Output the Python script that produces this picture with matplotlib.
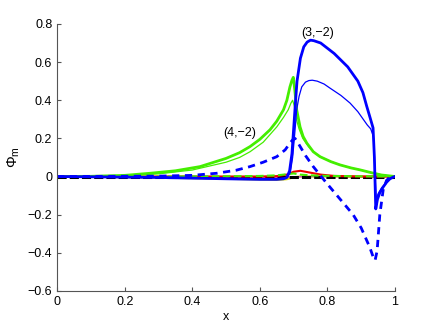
import matplotlib
matplotlib.use("Agg")
import matplotlib.pyplot as plt

plt.rcParams['font.family'] = ['Liberation Sans', 'DejaVu Sans']
plt.rcParams['mathtext.fontset'] = 'custom'
plt.rcParams['mathtext.rm'] = 'Liberation Sans'
plt.rcParams['mathtext.it'] = 'Liberation Sans'

# ── Data ──────────────────────────────────────────────────────────────────────

# (3,-2) mode, thick solid
x_blue_thick = [0.0, 0.3, 0.5, 0.6, 0.65, 0.67, 0.68, 0.688, 0.695, 0.70, 0.705, 0.71,
                0.72, 0.73, 0.74, 0.75, 0.76, 0.78, 0.82, 0.86, 0.89, 0.905, 0.916,
                0.926, 0.935, 0.939, 0.943, 0.948, 0.955, 0.965, 0.975, 0.985, 0.995, 1.0]
y_blue_thick = [0.0, -0.005, -0.012, -0.015, -0.015, -0.012, -0.005, 0.03, 0.12, 0.25,
                0.38, 0.5, 0.62, 0.68, 0.705, 0.715, 0.712, 0.70, 0.645, 0.575, 0.50,
                0.44, 0.37, 0.31, 0.255, 0.1, -0.17, -0.12, -0.085, -0.055, -0.03,
                -0.012, -0.003, 0.0]

# (3,-2) mode, thin solid
x_blue_thin = [0.0, 0.3, 0.5, 0.6, 0.65, 0.68, 0.69, 0.697, 0.703, 0.709, 0.716, 0.724,
               0.735, 0.745, 0.755, 0.77, 0.79, 0.808, 0.84, 0.867, 0.89, 0.906, 0.918,
               0.928, 0.936, 0.94, 0.944, 0.95, 0.96, 0.97, 0.98, 0.99, 1.0]
y_blue_thin = [0.0, -0.004, -0.01, -0.012, -0.012, -0.006, 0.02, 0.1, 0.22, 0.35, 0.42,
               0.47, 0.495, 0.503, 0.505, 0.5, 0.485, 0.463, 0.425, 0.385, 0.34, 0.3,
               0.27, 0.25, 0.21, 0.05, -0.12, -0.09, -0.06, -0.04, -0.02, -0.006, 0.0]

# (3,-2) mode, dashed
x_blue_dash = [0.0, 0.3, 0.4, 0.472, 0.53, 0.571, 0.61, 0.65, 0.675, 0.689, 0.697, 0.704,
               0.715, 0.735, 0.758, 0.8, 0.85, 0.876, 0.9, 0.925, 0.935, 0.941, 0.947,
               0.955, 0.965, 0.975, 0.985, 1.0]
y_blue_dash = [0.0, 0.002, 0.006, 0.017, 0.033, 0.052, 0.075, 0.104, 0.14, 0.175, 0.192,
               0.20, 0.17, 0.11, 0.052, -0.04, -0.145, -0.20, -0.27, -0.37, -0.42, -0.44,
               -0.39, -0.2, -0.07, -0.02, -0.003, 0.0]

# (4,-2) mode, thick solid
x_green_thick = [0.0, 0.1, 0.2, 0.275, 0.35, 0.423, 0.5, 0.54, 0.571, 0.6, 0.63, 0.65,
                 0.67, 0.68, 0.689, 0.695, 0.699, 0.703, 0.709, 0.719, 0.728, 0.739,
                 0.758, 0.778, 0.81, 0.837, 0.87, 0.896, 0.93, 0.96, 1.0]
y_green_thick = [0.0, 0.001, 0.006, 0.017, 0.03, 0.052, 0.095, 0.125, 0.157, 0.195, 0.245,
                 0.29, 0.35, 0.4, 0.47, 0.505, 0.52, 0.46, 0.35, 0.26, 0.21, 0.175,
                 0.13, 0.104, 0.078, 0.061, 0.045, 0.035, 0.02, 0.008, 0.0]

# (4,-2) mode, thin solid
x_green_thin = [0.0, 0.1, 0.2, 0.3, 0.4, 0.5, 0.54, 0.571, 0.61, 0.65, 0.67, 0.684, 0.692,
                0.697, 0.702, 0.708, 0.716, 0.727, 0.745, 0.765, 0.785, 0.81, 0.84, 0.87,
                0.9, 0.93, 0.96, 1.0]
y_green_thin = [0.0, 0.0, 0.004, 0.014, 0.034, 0.075, 0.1, 0.13, 0.18, 0.26, 0.31, 0.35,
                0.385, 0.40, 0.37, 0.3, 0.25, 0.2, 0.155, 0.12, 0.098, 0.078, 0.06, 0.045,
                0.034, 0.02, 0.008, 0.0]

# small-amplitude modes near zero
x_small = [0.0, 0.3, 0.5, 0.6, 0.65, 0.68, 0.7, 0.72, 0.75, 0.78, 0.82, 0.9, 1.0]
y_red = [0.0, 0.0, 0.0, 0.0, 0.002, 0.01, 0.025, 0.03, 0.02, 0.01, 0.003, 0.0, 0.0]
y_green_dash = [0.0, 0.0, 0.001, 0.003, 0.006, 0.012, 0.016, 0.01, 0.006, 0.004, 0.003, 0.001, 0.0]
y_yellow = [0.0, -0.006, -0.012, -0.016, -0.018, -0.014, -0.004, 0.0, 0.0, 0.0, 0.0, 0.0, 0.0]
y_magenta = [0.0, -0.003, -0.004, -0.004, -0.004, -0.003, -0.002, -0.001, 0.0, 0.0, 0.0, 0.0, 0.0]
x_zero = [0.0, 1.0]
y_zero = [0.0, 0.0]

BLUE = "#0000ff"
GREEN = "#44ee00"

# ── Plot ──────────────────────────────────────────────────────────────────────

fig = plt.figure(figsize=(4.36, 3.28), dpi=100)
ax = fig.add_axes([0.131, 0.113, 0.775, 0.814])

ax.plot(x_small, y_yellow, color="#dddd00", lw=1.5)
ax.plot(x_small, y_magenta, color="#cc44cc", lw=1.0)
ax.plot(x_zero, y_zero, color="black", lw=2.2, ls=(0, (3, 1)))
ax.plot(x_small, y_red, color="#ee0000", lw=1.5)
ax.plot(x_small, y_green_dash, color=GREEN, lw=1.5, ls="--")

ax.plot(x_green_thick, y_green_thick, color=GREEN, lw=2.0)
ax.plot(x_green_thin, y_green_thin, color=GREEN, lw=0.9)
ax.plot(x_blue_dash, y_blue_dash, color=BLUE, lw=2.0, ls=(0, (2.6, 2.0)))
ax.plot(x_blue_thin, y_blue_thin, color=BLUE, lw=0.9)
ax.plot(x_blue_thick, y_blue_thick, color=BLUE, lw=2.0)

ax.text(0.772, 0.752, "(3,\u22122)", fontsize=9, ha="center", va="center")
ax.text(0.541, 0.227, "(4,\u22122)", fontsize=9, ha="center", va="center")

ax.set_xlim(0, 1)
ax.set_ylim(-0.6, 0.8)
ax.set_xticks([0, 0.2, 0.4, 0.6, 0.8, 1])
ax.set_xticklabels(["0", "0.2", "0.4", "0.6", "0.8", "1"])
ax.set_yticks([-0.6, -0.4, -0.2, 0, 0.2, 0.4, 0.6, 0.8])
ax.set_yticklabels(["\u22120.6", "\u22120.4", "\u22120.2", "0", "0.2", "0.4", "0.6", "0.8"])
ax.tick_params(direction="in", length=3, labelsize=9, color="#555555")
for side in ("top", "right"):
    ax.spines[side].set_visible(False)
for side in ("left", "bottom"):
    ax.spines[side].set_color("#555555")
    ax.spines[side].set_linewidth(0.8)

ax.set_xlabel("x", fontsize=9, labelpad=2)
ax.set_ylabel(r"$\mathregular{\Phi_m}$", fontsize=10.5, labelpad=4)

fig.savefig("out.png", dpi=100)
